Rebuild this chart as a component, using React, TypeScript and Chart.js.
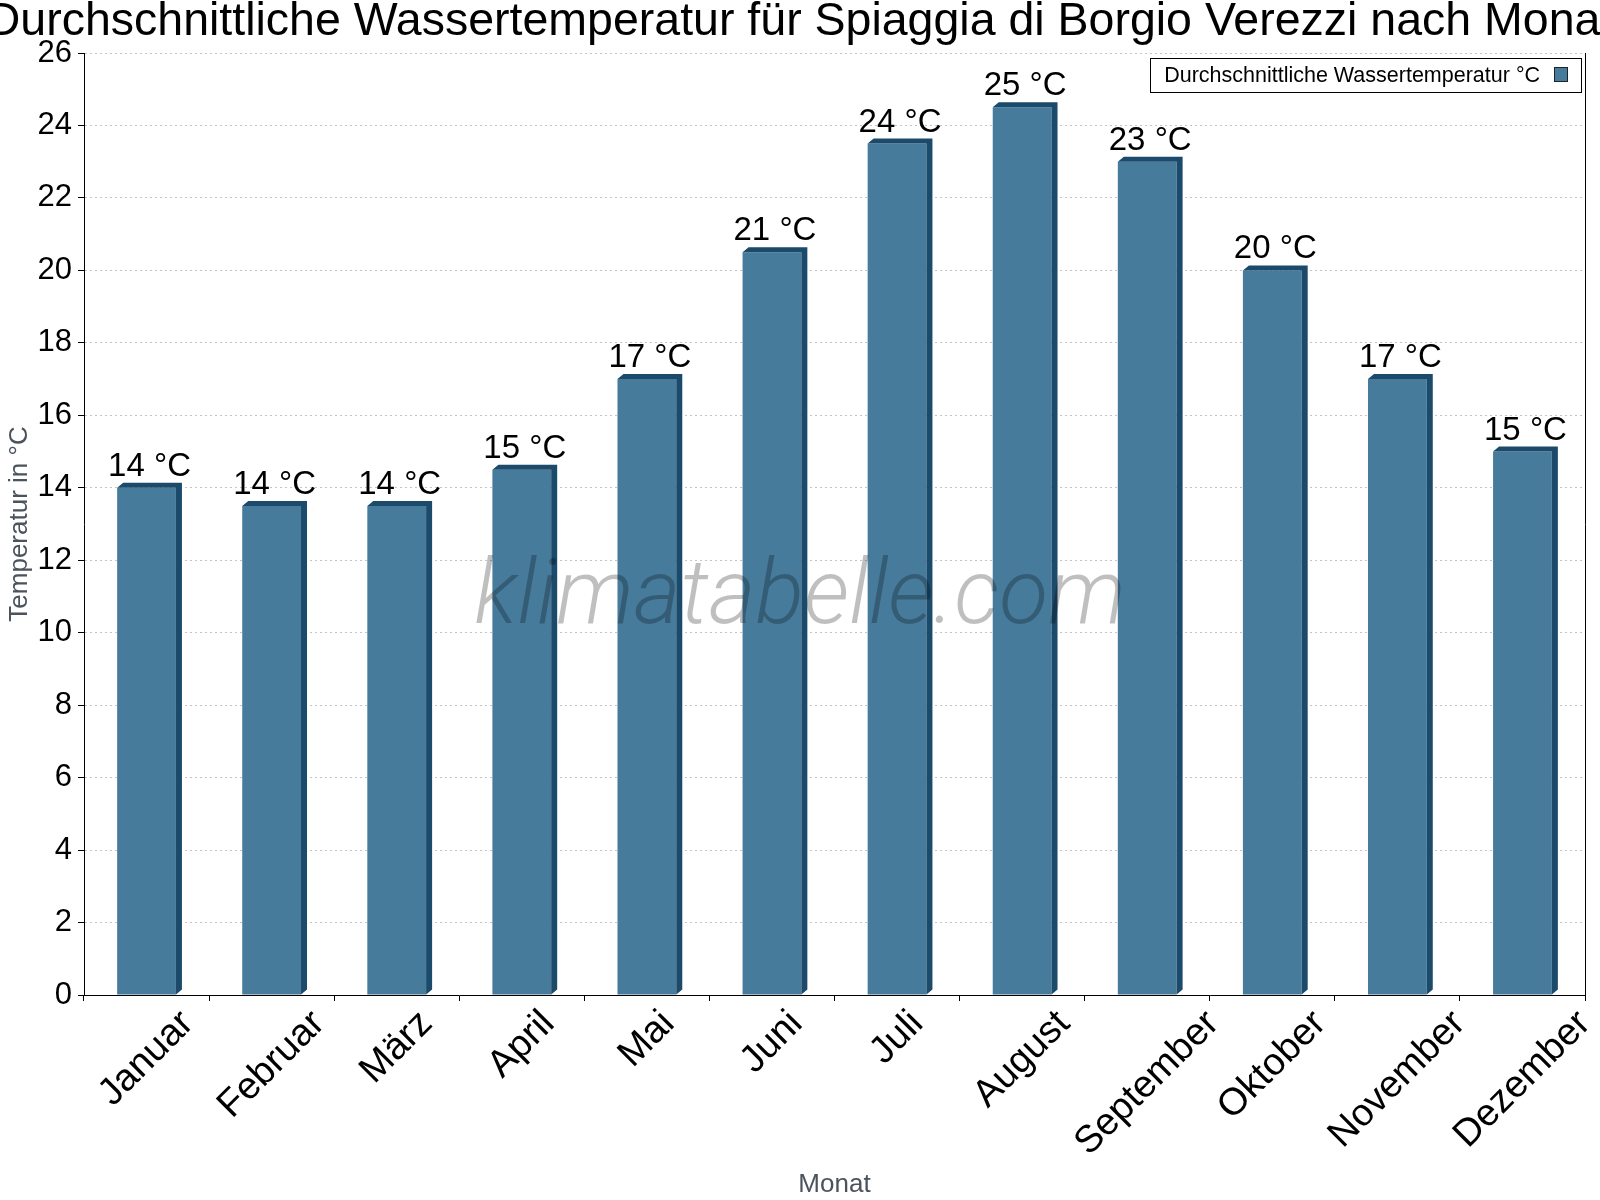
import React, { useEffect, useRef } from "react";
import { Chart, registerables } from "chart.js";

Chart.register(...registerables);

const FONT = "'Liberation Sans', Arial, sans-serif";

// data
const months = [
  "Januar",
  "Februar",
  "März",
  "April",
  "Mai",
  "Juni",
  "Juli",
  "August",
  "September",
  "Oktober",
  "November",
  "Dezember",
];
const waterTemp = [14, 13.5, 13.5, 14.5, 17, 20.5, 23.5, 24.5, 23, 20, 17, 15];
const yMin = 0;
const yMax = 26;
const yStep = 2;

const chartTitle =
  "Durchschnittliche Wassertemperatur für Spiaggia di Borgio Verezzi nach Monat";
const seriesName = "Durchschnittliche Wassertemperatur °C";
const yTitle = "Temperatur in °C";
const xTitle = "Monat";
const watermark = "klimatabelle.com";

const FRONT = "#467b9c";
const DARK = "#1b4a6b";
const AXIS_TITLE = "#4b535c";

// title is wider than the canvas in the original, so draw it without maxWidth squeezing
const titlePlugin = {
  id: "wideTitle",
  afterDraw(chart: any) {
    const { ctx } = chart;
    ctx.save();
    ctx.font = `46.5px ${FONT}`;
    ctx.fillStyle = "#000";
    ctx.textAlign = "center";
    ctx.textBaseline = "alphabetic";
    ctx.fillText(chartTitle, chart.width / 2, 35);
    ctx.restore();
  },
};

// 3D side/top of each bar + value label above it
const bar3dPlugin = {
  id: "bar3d",
  afterDatasetsDraw(chart: any) {
    const { ctx } = chart;
    const meta = chart.getDatasetMeta(0);
    const dx = 6;
    const dy = 5;
    ctx.save();
    meta.data.forEach((bar: any, i: number) => {
      const { x, y, base, width } = bar.getProps(["x", "y", "base", "width"], true);
      const l = x - width / 2;
      const r = x + width / 2;
      ctx.fillStyle = DARK;
      ctx.beginPath();
      ctx.moveTo(l, y);
      ctx.lineTo(l + dx, y - dy);
      ctx.lineTo(r + dx, y - dy);
      ctx.lineTo(r + dx, base - dy);
      ctx.lineTo(r, base);
      ctx.lineTo(r, y);
      ctx.closePath();
      ctx.fill();

      ctx.fillStyle = "#000";
      ctx.font = `33px ${FONT}`;
      ctx.textAlign = "center";
      ctx.textBaseline = "alphabetic";
      ctx.fillText(`${Math.round(waterTemp[i])} °C`, x + dx / 2, y - 12);
    });
    ctx.restore();
  },
};

// rotated month labels, centred under each category
const xLabelsPlugin = {
  id: "xLabels",
  afterDraw(chart: any) {
    const { ctx } = chart;
    const xs = chart.scales.x;
    const size = 38;
    ctx.save();
    ctx.font = `${size}px ${FONT}`;
    ctx.fillStyle = "#000";
    ctx.textAlign = "center";
    ctx.textBaseline = "middle";
    months.forEach((m, i) => {
      const px = xs.getPixelForValue(i);
      const w = ctx.measureText(m).width;
      const half = (w + size * 0.8) / (2 * Math.SQRT2);
      ctx.save();
      ctx.translate(px, xs.top + 12 + half);
      ctx.rotate(-Math.PI / 4);
      ctx.fillText(m, 0, 0);
      ctx.restore();
    });
    ctx.restore();
  },
};

const watermarkPlugin = {
  id: "watermark",
  afterDraw(chart: any) {
    const { ctx } = chart;
    ctx.save();
    ctx.font = "italic 300 90px Roboto, sans-serif";
    ctx.fillStyle = "rgba(0,0,0,0.25)";
    ctx.textAlign = "center";
    ctx.textBaseline = "alphabetic";
    ctx.fillText(watermark, chart.width / 2, 623);
    ctx.restore();
  },
};

// boxed legend in the top right corner of the plot
const legendBoxPlugin = {
  id: "legendBox",
  afterDraw(chart: any) {
    const { ctx, chartArea } = chart;
    ctx.save();
    ctx.font = `21.5px ${FONT}`;
    const tw = ctx.measureText(seriesName).width;
    const w = 14 + tw + 14 + 14 + 13;
    const h = 34;
    const right = chartArea.right - 4;
    const left = right - w;
    const top = chartArea.top + 5;
    ctx.fillStyle = "#fff";
    ctx.fillRect(left, top, w, h);
    ctx.strokeStyle = "#000";
    ctx.lineWidth = 1;
    ctx.strokeRect(Math.round(left) + 0.5, Math.round(top) + 0.5, Math.round(w), h);
    ctx.fillStyle = "#000";
    ctx.textAlign = "left";
    ctx.textBaseline = "alphabetic";
    ctx.fillText(seriesName, left + 14, top + 24);
    const sx = left + 14 + tw + 14;
    ctx.fillStyle = FRONT;
    ctx.fillRect(sx, top + 9, 14, 15);
    ctx.strokeStyle = "#222";
    ctx.strokeRect(Math.round(sx) + 0.5, Math.round(top + 9) + 0.5, 13, 14);
    ctx.restore();
  },
};

const WaterTempChart: React.FC = () => {
  const canvasRef = useRef<HTMLCanvasElement | null>(null);
  const chartRef = useRef<Chart | null>(null);

  useEffect(() => {
    if (chartRef.current) {
      chartRef.current.destroy();
    }
    if (canvasRef.current) {
      chartRef.current = new Chart(canvasRef.current, {
        type: "bar",
        data: {
          labels: months,
          datasets: [
            {
              label: seriesName,
              data: waterTemp,
              backgroundColor: FRONT,
              borderWidth: 0,
              barPercentage: 0.47,
              categoryPercentage: 1,
            },
          ],
        },
        options: {
          responsive: false,
          animation: false,
          devicePixelRatio: 1,
          layout: { padding: { top: 53, left: 0, right: 0, bottom: 0 } },
          scales: {
            x: {
              type: "category",
              offset: true,
              grid: {
                offset: true,
                drawOnChartArea: false,
                drawTicks: true,
                tickLength: 6,
                color: "#000",
                tickColor: "#000",
              },
              border: { display: true, color: "#000", width: 1 },
              ticks: { display: false },
              title: {
                display: true,
                text: xTitle,
                color: AXIS_TITLE,
                font: { family: FONT, size: 26 },
                padding: { top: 0, bottom: 0 },
              },
              afterFit: (s: any) => {
                s.height = 205;
              },
            },
            y: {
              type: "linear",
              min: yMin,
              max: yMax,
              ticks: {
                stepSize: yStep,
                color: "#000",
                font: { family: FONT, size: 31 },
                padding: 6,
              },
              grid: {
                color: "#c4c4c4",
                lineWidth: 1,
                tickLength: 6,
                tickColor: "#000",
                tickBorderDash: [],
              },
              border: { display: true, color: "#000", width: 1, dash: [2, 3] },
              title: {
                display: true,
                text: yTitle,
                color: AXIS_TITLE,
                font: { family: FONT, size: 26 },
                padding: { top: 4, bottom: 0 },
              },
              afterFit: (s: any) => {
                s.width = 84;
              },
            },
            yRight: {
              type: "linear",
              position: "right",
              min: yMin,
              max: yMax,
              ticks: { display: false },
              grid: { drawOnChartArea: false, drawTicks: false },
              border: { display: true, color: "#000", width: 1 },
              afterFit: (s: any) => {
                s.width = 15;
              },
            },
          },
          plugins: {
            legend: { display: false },
            tooltip: { enabled: false },
            title: { display: false },
          },
        },
        plugins: [titlePlugin, bar3dPlugin, xLabelsPlugin, watermarkPlugin, legendBoxPlugin],
      } as any);
    }
    return () => {
      if (chartRef.current) {
        chartRef.current.destroy();
        chartRef.current = null;
      }
    };
  }, []);

  return (
    <div style={{ position: "absolute", left: 0, top: 0, width: 1600, height: 1200, background: "#fff" }}>
      <canvas ref={canvasRef} width={1600} height={1200} style={{ display: "block" }} />
    </div>
  );
};

export default function App() {
  return <WaterTempChart />;
}
